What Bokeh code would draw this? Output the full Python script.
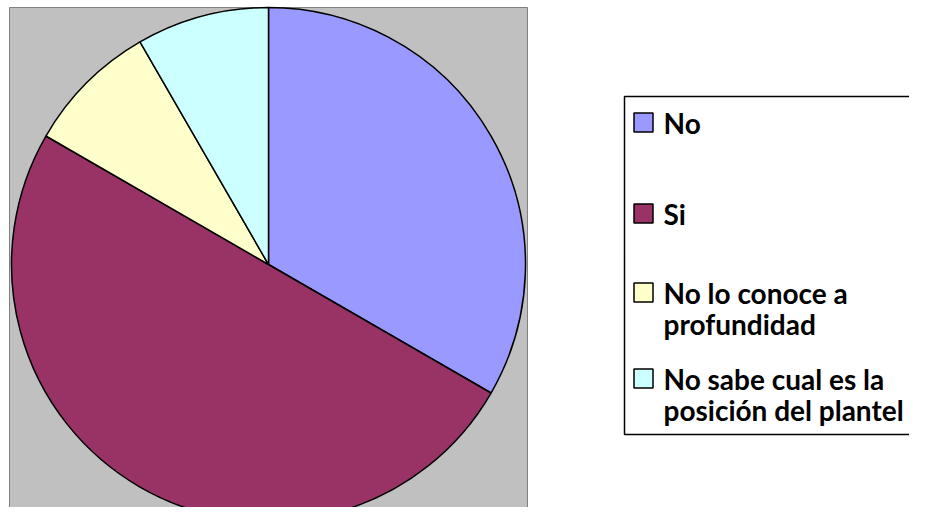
import numpy as np
from bokeh.plotting import figure
from bokeh.models import Range1d
from bokeh.embed import file_html
from bokeh.resources import INLINE
from bokeh.core.properties import value

# ---- data ----
categories = ["No", "Si", "No lo conoce a profundidad",
              "No sabe cual es la posición del plantel"]
values = [4, 6, 1, 1]
colors = ["#9999FF", "#993366", "#FFFFCC", "#CCFFFF"]
legend_lines = [["No"], ["Si"], ["No lo conoce a", "profundidad"],
                ["No sabe cual es la", "posición del plantel"]]

# ---- layout (picture pixel coordinates) ----
W, H = 909, 507


def X(px):
    return px


def Y(py):
    return H - py


p = figure(width=W, height=H, x_range=Range1d(0, W), y_range=Range1d(0, H),
           output_backend="svg", toolbar_location=None,
           x_axis_type=None, y_axis_type=None, min_border=0,
           outline_line_color=None, background_fill_color="white",
           border_fill_color="white")
p.grid.visible = False

# plot area
p.quad(left=X(9), right=X(527), top=Y(7), bottom=Y(560),
       fill_color="#C0C0C0", line_color="#808080", line_width=1)

# pie
total = float(sum(values))
cum = np.concatenate([[0], np.cumsum(values)])
start = [np.pi / 2 - 2 * np.pi * cum[i] / total for i in range(len(values))]
end = [np.pi / 2 - 2 * np.pi * cum[i + 1] / total for i in range(len(values))]
p.wedge(x=X(268), y=Y(264), radius=257, start_angle=start, end_angle=end,
        direction="clock", fill_color=colors, line_color="black",
        line_width=1.5)

# legend box
p.quad(left=X(624), right=X(960), top=Y(96), bottom=Y(434),
       fill_color="white", line_color="black", line_width=1.5)

square_y = [122, 213, 292, 378]
line_gap = 31
for i, lines in enumerate(legend_lines):
    p.rect(x=X(643), y=Y(square_y[i]), width=19, height=19,
           fill_color=colors[i], line_color="black", line_width=1.5)
    for j, t in enumerate(lines):
        p.text(x=[X(663)], y=[Y(square_y[i] + j * line_gap)], text=[t],
               text_font=value("Lato"), text_font_style="bold",
               text_font_size="28px", text_baseline="middle",
               text_align="left", text_color="black")

open("out.html", "w").write(file_html(p, INLINE))
